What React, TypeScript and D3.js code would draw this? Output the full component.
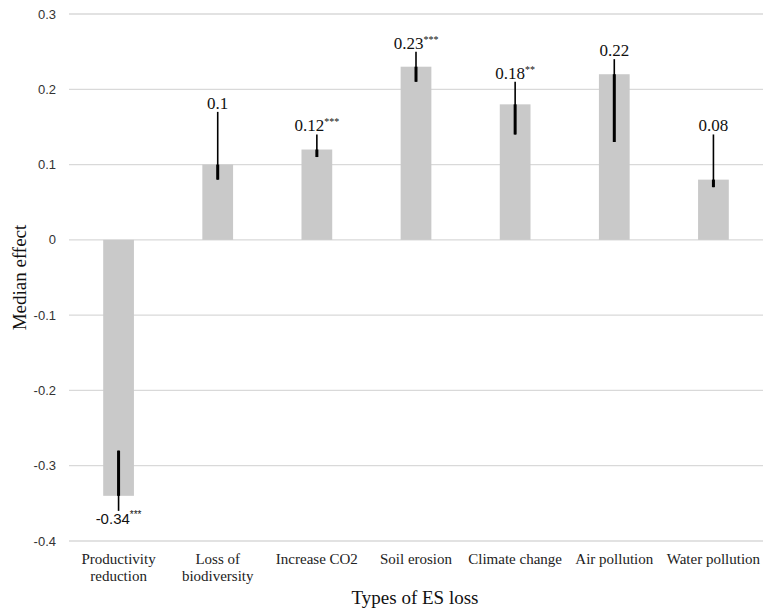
import React from 'react';
import * as d3 from 'd3';

// categories (label lines), medians, error bar ends, significance stars
const categories = [
  ['Productivity', 'reduction'],
  ['Loss of', 'biodiversity'],
  ['Increase CO2'],
  ['Soil erosion'],
  ['Climate change'],
  ['Air pollution'],
  ['Water pollution'],
];
const medians = [-0.34, 0.1, 0.12, 0.23, 0.18, 0.22, 0.08];
const lowers = [-0.36, 0.08, 0.11, 0.21, 0.14, 0.13, 0.07];
const uppers = [-0.28, 0.17, 0.14, 0.25, 0.21, 0.24, 0.14];
const stars = ['***', '', '***', '***', '**', '', ''];

const yTicks = [0.3, 0.2, 0.1, 0, -0.1, -0.2, -0.3, -0.4];
const yTickLabels = ['0.3', '0.2', '0.1', '0', '-0.1', '-0.2', '-0.3', '-0.4'];

const W = 763;
const H = 610;
const serif = '"Liberation Serif", "Times New Roman", serif';
const sans = '"Liberation Sans", Arial, sans-serif';

export default function App() {
  const keys = categories.map((c) => c.join(' '));
  const x = d3.scaleBand<string>()
    .domain(keys)
    .range([69, 763])
    .paddingInner(0.69)
    .paddingOuter(0.345);
  const y = d3.scaleLinear().domain([-0.4, 0.3]).range([541, 14]);
  const bw = x.bandwidth();

  return (
    <svg width={W} height={H} style={{ position: 'absolute', left: 0, top: 0, background: '#fff' }}>
      {/* gridlines */}
      {yTicks.map((t, i) => (
        <g key={'g' + i}>
          <line x1={69} x2={763} y1={y(t)} y2={y(t)} stroke="#d9d9d9" strokeWidth={1.3} />
          <text x={56} y={y(t) + 4.5} textAnchor="end" fontFamily={sans} fontSize={13} fill="#333">
            {yTickLabels[i]}
          </text>
        </g>
      ))}

      {/* bars */}
      {keys.map((k, i) => {
        const v = medians[i];
        const x0 = x(k) as number;
        const cx = x0 + bw / 2;
        const top = y(Math.max(0, v));
        const bot = y(Math.min(0, v));
        const yv = y(v);
        const yl = y(lowers[i]);
        const yu = y(uppers[i]);
        // part of the error line lying over the bar is drawn heavier
        const inA = Math.max(Math.min(yl, yu), top);
        const inB = Math.min(Math.max(yl, yu), bot);
        const pos = v >= 0;
        return (
          <g key={k}>
            <rect x={x0} y={top} width={bw} height={bot - top} fill="#c9c9c9" />
            <line x1={cx} x2={cx} y1={yu} y2={yl} stroke="#000" strokeWidth={1.6} />
            {inB > inA && (
              <line x1={cx} x2={cx} y1={inA} y2={inB} stroke="#000" strokeWidth={3} />
            )}
            <text
              x={cx}
              y={pos ? yu - 3 : yl + 13}
              textAnchor="middle"
              fontFamily={pos ? serif : sans}
              fontSize={pos ? 17 : 15}
              fill="#111"
            >
              {String(v)}
              {stars[i] && (
                <tspan fontSize={10} dy={-6}>
                  {stars[i]}
                </tspan>
              )}
            </text>
            {categories[i].map((line, j) => (
              <text
                key={j}
                x={cx}
                y={564 + j * 17}
                textAnchor="middle"
                fontFamily={serif}
                fontSize={15}
                fill="#222"
              >
                {line}
              </text>
            ))}
          </g>
        );
      })}

      {/* axis titles */}
      <text
        transform={`translate(26,${(y(0.3) + y(-0.4)) / 2}) rotate(-90)`}
        textAnchor="middle"
        fontFamily={serif}
        fontSize={19}
        fill="#111"
      >
        Median effect
      </text>
      <text x={415} y={604} textAnchor="middle" fontFamily={serif} fontSize={19} fill="#111">
        Types  of ES loss
      </text>
    </svg>
  );
}
